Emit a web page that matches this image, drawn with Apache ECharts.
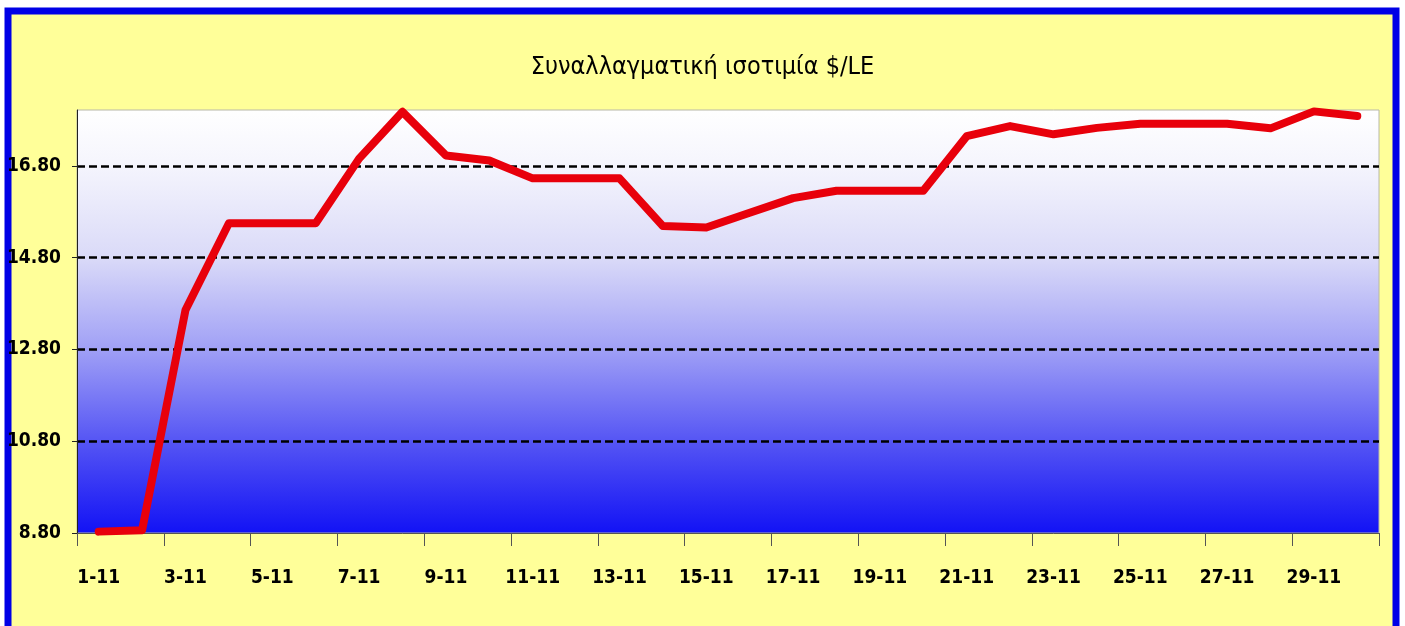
<!DOCTYPE html>
<html>
<head>
<meta charset="utf-8">
<style>
  html, body { margin: 0; padding: 0; background: #ffffff; }
  #chart { width: 1405px; height: 626px; }
</style>
<script src="https://cdn.jsdelivr.net/npm/echarts@6/dist/echarts.min.js"></script>
</head>
<body>
<div id="chart"></div>
<script>
// dates along the x axis
const days = ['1-11', '2-11', '3-11', '4-11', '5-11', '6-11', '7-11', '8-11', '9-11', '10-11',
  '11-11', '12-11', '13-11', '14-11', '15-11', '16-11', '17-11', '18-11', '19-11', '20-11',
  '21-11', '22-11', '23-11', '24-11', '25-11', '26-11', '27-11', '28-11', '29-11', '30-11'];

// exchange rate $/LE
const rate = [8.83, 8.86, 13.66, 15.55, 15.55, 15.55, 16.96, 17.98, 17.03, 16.92,
  16.53, 16.53, 16.53, 15.49, 15.46, 15.78, 16.10, 16.26, 16.26, 16.26,
  17.45, 17.67, 17.49, 17.63, 17.72, 17.72, 17.72, 17.62, 17.99, 17.89];

const yTicks = [8.8, 10.8, 12.8, 14.8, 16.8];

const labelFont = '"DejaVu Sans Condensed", "Liberation Sans Narrow", sans-serif';

const chart = echarts.init(document.getElementById('chart'));

chart.setOption({
  backgroundColor: '#ffffff',
  animation: false,
  graphic: [{
    type: 'rect',
    z: -10,
    silent: true,
    shape: { x: 8, y: 11, width: 1388, height: 640 },
    style: { fill: '#ffff99', stroke: '#0000e6', lineWidth: 7 }
  }],
  title: {
    text: 'Συναλλαγματική ισοτιμία $/LE',
    left: 'center',
    top: 50,
    textStyle: {
      fontFamily: labelFont,
      fontWeight: 'normal',
      fontSize: 25,
      color: '#000'
    }
  },
  grid: {
    left: 77,
    right: 26,
    top: 110,
    bottom: 93,
    show: true,
    borderColor: '#b8b8a8',
    borderWidth: 1,
    backgroundColor: new echarts.graphic.LinearGradient(0, 0, 0, 1, [
      { offset: 0, color: '#ffffff' },
      { offset: 0.13, color: '#f5f5fd' },
      { offset: 0.35, color: '#dadaf8' },
      { offset: 0.565, color: '#a0a0f6' },
      { offset: 0.78, color: '#5656f4' },
      { offset: 1, color: '#1212f5' }
    ])
  },
  xAxis: {
    type: 'category',
    data: days,
    boundaryGap: true,
    axisLine: { show: true, lineStyle: { color: '#555', width: 1 } },
    axisTick: { show: true, interval: 1, length: 13, lineStyle: { color: '#555', width: 1 } },
    axisLabel: {
      interval: 1,
      margin: 36,
      color: '#000',
      fontFamily: labelFont,
      fontWeight: 'bold',
      fontSize: 19
    },
    splitLine: { show: false }
  },
  yAxis: {
    type: 'value',
    min: 8.8,
    max: 18.02,
    interval: 2,
    axisLine: { show: true, lineStyle: { color: '#222', width: 1 } },
    axisTick: { show: true, length: 5, customValues: yTicks, lineStyle: { color: '#222' } },
    axisLabel: {
      customValues: yTicks,
      margin: 16,
      color: '#000',
      fontFamily: labelFont,
      fontWeight: 'bold',
      fontSize: 19,
      formatter: v => v.toFixed(2)
    },
    splitLine: {
      show: true,
      showMinLine: false,
      lineStyle: { color: '#000', width: 2.5, type: [8, 4] }
    }
  },
  series: [{
    type: 'line',
    data: rate,
    symbol: 'none',
    lineStyle: { color: '#e8000b', width: 8, join: 'round', cap: 'round' },
    z: 5
  }]
});
</script>
</body>
</html>
